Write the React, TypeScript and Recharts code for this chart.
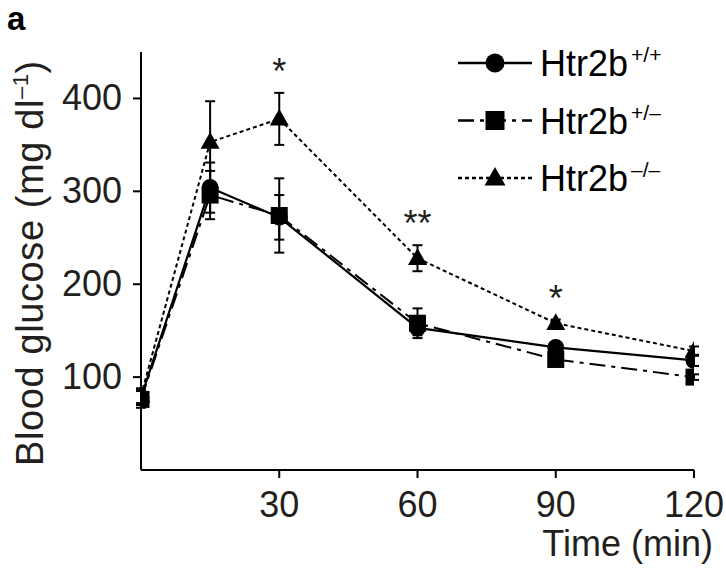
import React from 'react';
import { ComposedChart, Line, XAxis, YAxis, ErrorBar, Scatter, Legend } from 'recharts';

// ---- data ----
const times = [0, 15, 30, 60, 90, 120];
const wtMean = [78, 304, 272, 153, 132, 118];
const wtSem = [8, 27, 24, 8, 4, 6];
const hetMean = [76, 296, 274, 158, 119, 100];
const hetSem = [9, 26, 40, 16, 4, 3];
const koMean = [80, 353, 378, 228, 158, 128];
const koSem = [8, 44, 28, 14, 4, 5];

const xTicks = [30, 60, 90, 120];
const yTicks = [100, 200, 300, 400];

const sigTimes = [30, 60, 90];
const sigLabels = ['*', '**', '*'];

const seriesNames = ['Htr2b', 'Htr2b', 'Htr2b'];
const seriesSup = ['+/+', '+/\u2013', '\u2013/\u2013'];

const rows = times.map((t, i) => ({
  time: t,
  wt: wtMean[i],
  wtErr: wtSem[i],
  het: hetMean[i],
  hetErr: hetSem[i],
  ko: koMean[i],
  koErr: koSem[i],
}));

const sigRows = sigTimes.map((t, i) => {
  const k = times.indexOf(t);
  return { time: t, top: koMean[k] + koSem[k], label: sigLabels[i] };
});

const FONT = '"Liberation Sans", Arial, Helvetica, sans-serif';
const TEXT = '#231f20';
const INK = '#000';

const DASH_WT = undefined;
const DASH_HET = '16 6 4 6';
const DASH_KO = '4 3';

type Kind = 'circle' | 'square' | 'triangle';

function marker(kind: Kind, cx: number, cy: number, size: number, key?: string) {
  if (kind === 'circle') return <circle key={key} cx={cx} cy={cy} r={size / 2} fill={INK} />;
  if (kind === 'square')
    return <rect key={key} x={cx - size / 2} y={cy - size / 2} width={size} height={size} fill={INK} />;
  const h = size * 0.88;
  const pts = `${cx},${cy - h * 0.6} ${cx - size / 2},${cy + h * 0.4} ${cx + size / 2},${cy + h * 0.4}`;
  return <polygon key={key} points={pts} fill={INK} />;
}

const dotFor = (kind: Kind, size: number) => (p: any) => {
  if (p.cx == null || p.cy == null) return <g key={`e-${kind}-${p.index}`} />;
  return marker(kind, p.cx, p.cy, size, `d-${kind}-${p.index}`);
};

const XTick = (props: any) => {
  const { x, y, payload } = props;
  return (
    <text x={x} y={y + 39} textAnchor="middle" fontSize={36} fill={TEXT} fontFamily={FONT}>
      {payload.value}
    </text>
  );
};

const YTick = (props: any) => {
  const { x, y, payload } = props;
  return (
    <text x={x - 11} y={y + 12} textAnchor="end" fontSize={36} fill={TEXT} fontFamily={FONT}>
      {payload.value}
    </text>
  );
};

const renderYLabel = () => (
  <g>
    <text x={7} y={30} fontSize={33} fontWeight="bold" fill={INK} fontFamily={FONT}>
      a
    </text>
    <text
      x={43}
      y={263}
      textAnchor="middle"
      fontSize={38}
      letterSpacing={0.6}
      fill={TEXT}
      fontFamily={FONT}
      transform="rotate(-90, 43, 263)"
    >
      Blood glucose (mg dl
      <tspan fontSize={22} dy={-15}>{'\u20131'}</tspan>
      <tspan dy={15}>)</tspan>
    </text>
  </g>
);

const renderXLabel = () => (
  <text x={713} y={556} textAnchor="end" fontSize={36} fill={TEXT} fontFamily={FONT}>
    Time (min)
  </text>
);

const legendKinds: Kind[] = ['circle', 'square', 'triangle'];
const legendDash = [DASH_WT, DASH_HET, DASH_KO];

const renderLegend = () => (
  <svg width={276} height={180}>
    {legendKinds.map((k, i) => {
      const cy = 33 + i * 57.5;
      return (
        <g key={k}>
          <line x1={8} x2={82} y1={cy} y2={cy} stroke={INK} strokeWidth={2.5} strokeDasharray={legendDash[i]} />
          {marker(k, 45, cy, k === 'triangle' ? 21 : 19)}
          <text x={90} y={cy + 13} fontSize={36} fill={INK} fontFamily={FONT}>
            {seriesNames[i]}
            <tspan fontSize={21} dx={3} dy={-14}>
              {seriesSup[i]}
            </tspan>
          </text>
        </g>
      );
    })}
  </svg>
);

const renderSig = (p: any) => (
  <text
    key={`s-${p.index}`}
    x={p.cx}
    y={p.cy - 9}
    textAnchor="middle"
    fontSize={36}
    fill={TEXT}
    fontFamily={FONT}
  >
    {p.payload.label}
  </text>
);

export default function App() {
  return (
    <div style={{ position: 'absolute', left: 0, top: 0, width: 726, height: 568, background: '#fff' }}>
      <ComposedChart width={726} height={568} data={rows} margin={{ top: 52, right: 32, bottom: 0, left: 0 }}>
        <XAxis
          type="number"
          dataKey="time"
          domain={[0, 120]}
          ticks={xTicks}
          tick={<XTick />}
          tickSize={8}
          tickMargin={0}
          height={98}
          stroke={INK}
          strokeWidth={2}
          tickLine={{ stroke: INK, strokeWidth: 2 }}
          axisLine={{ stroke: INK, strokeWidth: 2 }}
          label={renderXLabel}
          allowDataOverflow
        />
        <YAxis
          type="number"
          domain={[0, 450]}
          ticks={yTicks}
          tick={<YTick />}
          tickSize={8}
          tickMargin={0}
          width={141}
          stroke={INK}
          strokeWidth={2}
          tickLine={{ stroke: INK, strokeWidth: 2 }}
          axisLine={{ stroke: INK, strokeWidth: 2 }}
          label={renderYLabel}
        />
        <Legend
          layout="vertical"
          align="center"
          verticalAlign="middle"
          content={renderLegend}
          wrapperStyle={{ left: 450, top: 30, width: 276, height: 180 }}
        />
        <Line
          dataKey="wt"
          name="Htr2b+/+"
          type="linear"
          stroke={INK}
          strokeWidth={2.2}
          dot={dotFor('circle', 17)}
          activeDot={false}
          isAnimationActive={false}
        >
          <ErrorBar dataKey="wtErr" direction="y" width={5} stroke={INK} strokeWidth={2} />
        </Line>
        <Line
          dataKey="het"
          name="Htr2b+/-"
          type="linear"
          stroke={INK}
          strokeWidth={2}
          strokeDasharray={DASH_HET}
          dot={dotFor('square', 17)}
          activeDot={false}
          isAnimationActive={false}
        >
          <ErrorBar dataKey="hetErr" direction="y" width={5} stroke={INK} strokeWidth={2} />
        </Line>
        <Line
          dataKey="ko"
          name="Htr2b-/-"
          type="linear"
          stroke={INK}
          strokeWidth={2}
          strokeDasharray={DASH_KO}
          dot={dotFor('triangle', 19)}
          activeDot={false}
          isAnimationActive={false}
        >
          <ErrorBar dataKey="koErr" direction="y" width={5} stroke={INK} strokeWidth={2} />
        </Line>
        <Scatter data={sigRows} dataKey="top" shape={renderSig} isAnimationActive={false} legendType="none" />
      </ComposedChart>
    </div>
  );
}
